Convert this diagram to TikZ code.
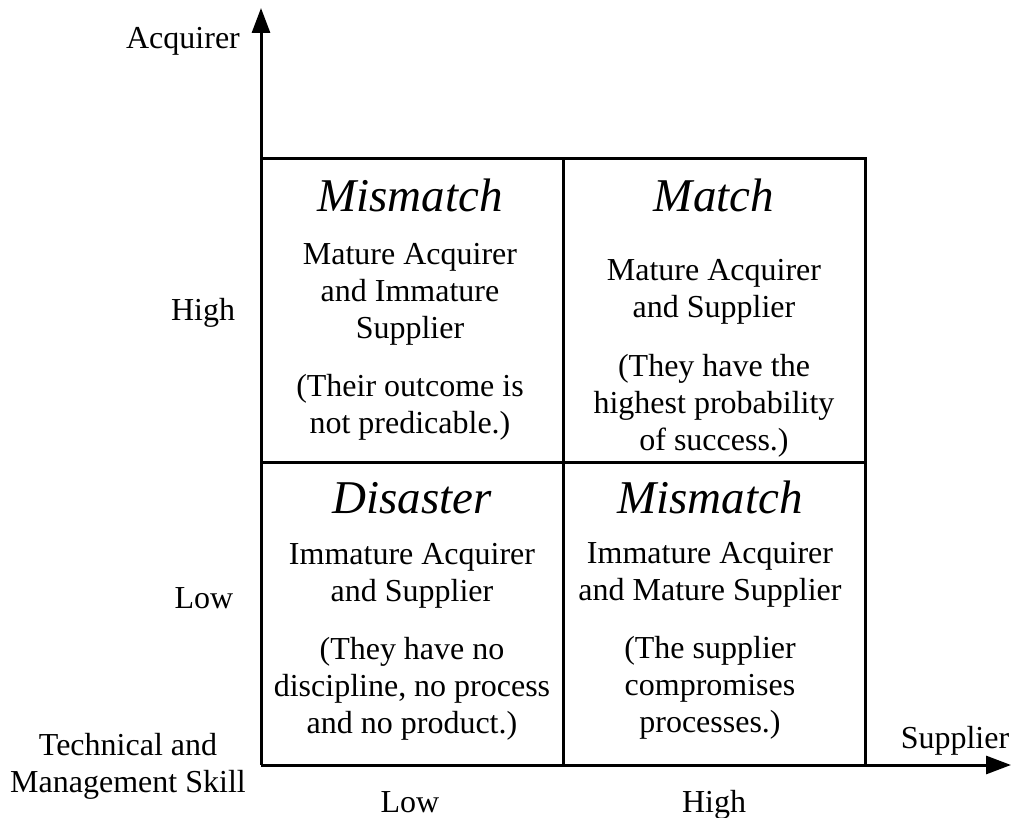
\documentclass[tikz,border=0pt]{standalone}
\usepackage{fontspec}
\setmainfont{Liberation Serif}
\usetikzlibrary{arrows.meta}
\begin{document}
\begin{tikzpicture}[x=1pt,y=-1pt,
  grid/.style={line width=3pt},
  axis/.style={line width=3pt,-{Triangle[length=25pt,width=18pt]}},
  lbl/.style={inner sep=0pt,anchor=base,align=center,
    font=\fontsize{32}{37}\selectfont},
  head/.style={inner sep=0pt,anchor=base,
    font=\fontsize{47}{50}\selectfont\itshape}]
\useasboundingbox (0,0) rectangle (1012,818);

% axes and quadrant grid
\coordinate (O) at (261,765);
\coordinate (ytip) at (261,8);
\coordinate (xtip) at (1011,765);
\coordinate (tl) at (261,159);
\coordinate (tr) at (865,159);
\coordinate (br) at (865,765);
\draw[grid] (tl) -- (tr) -- (br);
\draw[grid] (261,462) -- (865,462);
\draw[grid] (563,159) -- (563,765);
\draw[axis] (O) -- (ytip);
\draw[axis] (O) -- (xtip);

% axis labels (multi-line nodes are placed by the baseline of their last line)
\node[lbl] (acq) at (183,49) {Acquirer};
\node[lbl] (yhigh) at (203,320) {High};
\node[lbl] (ylow) at (204,608) {Low};
\node[lbl] (skill) at (128,792) {Technical and\\Management Skill};
\node[lbl] (sup) at (955,748) {Supplier};
\node[lbl] (xlow) at (410,812) {Low};
\node[lbl] (xhigh) at (714,812) {High};

% top-left quadrant
\node[head] (h1) at (410,212) {Mismatch};
\node[lbl] (d1) at (410,338) {Mature Acquirer\\and Immature\\Supplier};
\node[lbl] (n1) at (410,433) {(Their outcome is\\not predicable.)};

% top-right quadrant
\node[head] (h2) at (714,212) {Match};
\node[lbl] (d2) at (714,318) {Mature Acquirer\\and Supplier};
\node[lbl] (n2) at (714,450) {(They have the\\highest probability\\of success.)};

% bottom-left quadrant
\node[head] (h3) at (412,513) {Disaster};
\node[lbl] (d3) at (412,601) {Immature Acquirer\\and Supplier};
\node[lbl] (n3) at (412,733) {(They have no\\discipline, no process\\and no product.)};

% bottom-right quadrant
\node[head] (h4) at (710,513) {Mismatch};
\node[lbl] (d4) at (710,600) {Immature Acquirer\\and Mature Supplier};
\node[lbl] (n4) at (710,732) {(The supplier\\compromises\\processes.)};
\end{tikzpicture}
\end{document}
